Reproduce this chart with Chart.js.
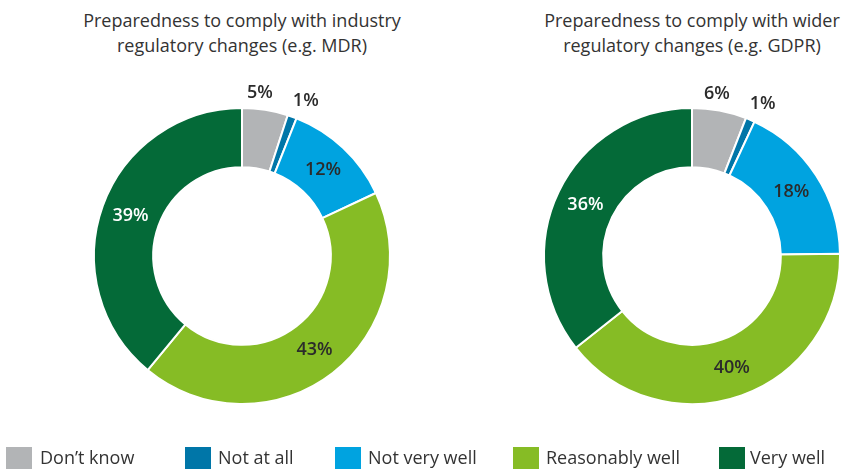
<!DOCTYPE html>
<html>
<head>
<meta charset="utf-8">
<script src="https://cdn.jsdelivr.net/npm/chart.js@4"></script>
<style>
  html, body { margin:0; padding:0; background:#fff; width:841px; height:470px; overflow:hidden; font-family:"Open Sans", sans-serif; color:#333; }
  .title { position:absolute; top:8px; text-align:center; font-size:18px; line-height:25px; color:#333; white-space:nowrap; }
  .box { position:absolute; }
  .lg-sq { position:absolute; top:447px; width:26px; height:22px; }
  .lg-tx { position:absolute; top:445px; font-size:18px; line-height:25px; color:#333; white-space:nowrap; }
</style>
</head>
<body>
<div class="title" id="t1" style="left:40px;width:404px;"></div>
<div class="title" id="t2" style="left:490px;width:404px;"></div>
<div class="box" style="left:0px;top:56px;width:484px;height:400px;"><canvas id="c1"></canvas></div>
<div class="box" style="left:450px;top:56px;width:391px;height:400px;"><canvas id="c2"></canvas></div>
<div id="legend"></div>
<script>
const categories = ["Don\u2019t know", "Not at all", "Not very well", "Reasonably well", "Very well"];
const industryValues = [5, 1, 12, 43, 39];
const widerValues = [6, 1, 18, 40, 36];
const colors = ["#B2B4B6", "#0076A8", "#00A3E0", "#86BC25", "#046A38"];
const titleIndustry = ["Preparedness to comply with industry", "regulatory changes (e.g. MDR)"];
const titleWider = ["Preparedness to comply with wider", "regulatory changes (e.g. GDPR)"];

document.getElementById('t1').innerHTML = titleIndustry.join('<br>');
document.getElementById('t2').innerHTML = titleWider.join('<br>');

const legendPos = [[6,40],[185,218],[335,368],[513,546],[719,750]];
const lg = document.getElementById('legend');
categories.forEach((c, i) => {
  const sq = document.createElement('div');
  sq.className = 'lg-sq';
  sq.style.left = legendPos[i][0] + 'px';
  sq.style.background = colors[i];
  lg.appendChild(sq);
  const tx = document.createElement('div');
  tx.className = 'lg-tx';
  tx.style.left = legendPos[i][1] + 'px';
  tx.textContent = c;
  lg.appendChild(tx);
});

const labelPlugin = {
  id: 'sliceLabels',
  afterDatasetsDraw(chart) {
    const ctx = chart.ctx;
    const meta = chart.getDatasetMeta(0);
    const data = chart.data.datasets[0].data;
    ctx.save();
    ctx.font = '600 18px "Open Sans", sans-serif';
    ctx.textAlign = 'center';
    ctx.textBaseline = 'middle';
    const outside = [];
    meta.data.forEach((arc, i) => {
      const v = data[i];
      const txt = v + '%';
      if (v < 8) {
        const mid = (arc.startAngle + arc.endAngle) / 2;
        const r = arc.outerRadius + 17;
        outside.push({ x: arc.x + Math.cos(mid) * r, y: arc.y + Math.sin(mid) * r, txt, w: ctx.measureText(txt).width });
      } else {
        const p = arc.tooltipPosition();
        ctx.fillStyle = i === 4 ? '#ffffff' : '#2b2b2b';
        ctx.fillText(txt, p.x, p.y);
      }
    });
    for (let k = 1; k < outside.length; k++) {
      const a = outside[k-1], b = outside[k];
      const gap = (b.x - b.w/2) - (a.x + a.w/2);
      const need = 20 - gap;
      if (need > 0) { a.x -= need/2; b.x += need/2; }
    }
    ctx.fillStyle = '#2b2b2b';
    outside.forEach(o => ctx.fillText(o.txt, o.x, o.y));
    ctx.restore();
  }
};

function makeChart(id, values, padding) {
  return new Chart(document.getElementById(id), {
    type: 'doughnut',
    data: {
      labels: categories,
      datasets: [{ data: values, backgroundColor: colors, borderColor: '#ffffff', borderWidth: 2, hoverOffset: 0 }]
    },
    options: {
      responsive: true,
      maintainAspectRatio: false,
      animation: false,
      cutout: '60%',
      layout: { padding },
      plugins: { legend: { display: false }, tooltip: { enabled: false }, title: { display: false } },
      events: []
    },
    plugins: [labelPlugin]
  });
}

makeChart('c1', industryValues, { left: 93, right: 93, top: 51, bottom: 51 });
makeChart('c2', widerValues, { left: 93, right: 0, top: 51, bottom: 51 });
</script>
</body>
</html>
